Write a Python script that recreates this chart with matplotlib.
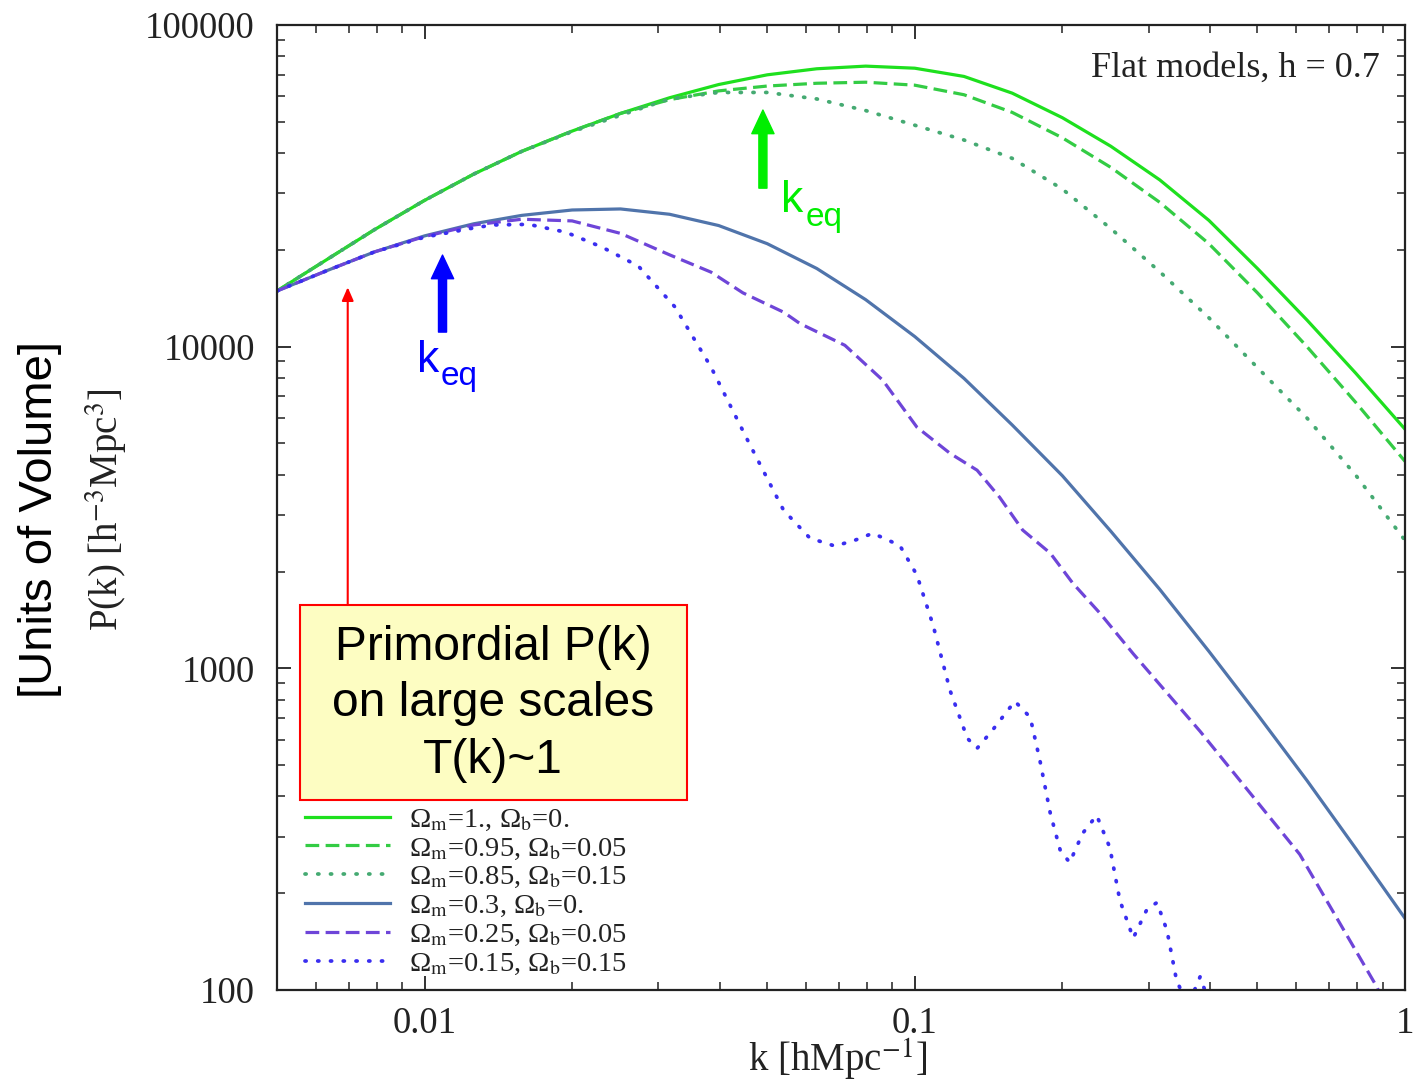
import numpy as np
import matplotlib.pyplot as plt
from matplotlib.patches import Rectangle
from matplotlib.ticker import FuncFormatter, LogLocator, NullFormatter

plt.rcParams['mathtext.fontset'] = 'stix'
SERIF = 'Liberation Serif'
SANS = 'Liberation Sans'

# shared k grid for the smooth curves [h/Mpc]
k_grid = [0.005, 0.0063, 0.0079, 0.01, 0.0126, 0.0158, 0.02, 0.0251, 0.0316, 0.0398,
          0.05, 0.0631, 0.0794, 0.1, 0.126, 0.158, 0.2, 0.251, 0.316, 0.398,
          0.5, 0.631, 0.794, 1.0]
p_om100 = [14900, 18600, 23100, 28500, 34400, 40500, 46800, 53100, 59400, 65300,
           70000, 73100, 74500, 73400, 69200, 61400, 51500, 42000, 33000, 24700,
           17500, 12100, 8260, 5540]
p_om095 = [14900, 18600, 23100, 28500, 34400, 40500, 46800, 53100, 58600, 62400,
           64600, 65900, 66400, 65000, 60700, 53500, 44600, 36100, 28100, 20900,
           14700, 10000, 6700, 4400]
p_om085 = [14900, 18600, 23100, 28500, 34400, 40500, 46600, 52400, 58900, 61700,
           61700, 58900, 54200, 48800, 43900, 38500, 30900, 23300, 17100, 12300,
           8610, 6000, 3980, 2500]
p_om030 = [14900, 17200, 19700, 22100, 24100, 25600, 26600, 26800, 25800, 23800,
           20900, 17500, 14000, 10750, 7970, 5710, 3970, 2670, 1760, 1130,
           719, 448, 275, 167]

k_om025 = [0.005, 0.0063, 0.0079, 0.01, 0.0126, 0.0158, 0.02, 0.0251, 0.0316, 0.0384,
           0.0446, 0.054, 0.0583, 0.072, 0.086, 0.101, 0.118, 0.134, 0.149, 0.166,
           0.189, 0.21, 0.239, 0.279, 0.382, 0.61, 0.877, 1.0]
p_om025 = [14900, 17200, 19700, 22000, 23900, 24900, 24600, 22500, 19300, 17050,
           14700, 12800, 11800, 10100, 7870, 5620, 4660, 4130, 3400, 2690,
           2280, 1840, 1480, 1110, 637, 264, 102, 62]

k_om015 = [0.005, 0.0063, 0.0079, 0.01, 0.0126, 0.0138, 0.0163, 0.0194, 0.023, 0.0273,
           0.0324, 0.0384, 0.0456, 0.054, 0.0611, 0.0687, 0.0754, 0.0821, 0.0932, 0.101,
           0.109, 0.118, 0.128, 0.134, 0.144, 0.16, 0.172, 0.18, 0.189, 0.198,
           0.207, 0.22, 0.235, 0.25, 0.262, 0.279, 0.298, 0.312, 0.327, 0.342,
           0.361, 0.382, 0.404, 0.439]
p_om015 = [14900, 17200, 19700, 21900, 23400, 23900, 24000, 22700, 20400, 17800,
           13300, 8640, 5120, 3100, 2540, 2400, 2500, 2630, 2410, 1950,
           1360, 854, 606, 564, 642, 790, 704, 517, 354, 272,
           249, 307, 349, 277, 190, 145, 179, 187, 153, 107,
           89.5, 110, 86, 56]

labels = [r'Ω$_\mathrm{m}$=1., Ω$_\mathrm{b}$=0.',
          r'Ω$_\mathrm{m}$=0.95, Ω$_\mathrm{b}$=0.05',
          r'Ω$_\mathrm{m}$=0.85, Ω$_\mathrm{b}$=0.15',
          r'Ω$_\mathrm{m}$=0.3, Ω$_\mathrm{b}$=0.',
          r'Ω$_\mathrm{m}$=0.25, Ω$_\mathrm{b}$=0.05',
          r'Ω$_\mathrm{m}$=0.15, Ω$_\mathrm{b}$=0.15']

dash = (0, (4.3, 2.0))
dot = (0, (0.3, 3.1))

fig = plt.figure(figsize=(14.14, 10.86), dpi=100)
ax = fig.add_axes([277 / 1414, 96 / 1086, 1128 / 1414, 965 / 1086])

lw = 2.3
ax.plot(k_grid, p_om100, color='#1ee01e', lw=lw, ls='-', label=labels[0])
ax.plot(k_grid, p_om095, color='#33cc44', lw=lw, ls=dash, label=labels[1])
ax.plot(k_grid, p_om085, color='#45aa72', lw=2.7, ls=dot, dash_capstyle='round',
        label=labels[2])
ax.plot(k_grid, p_om030, color='#5074ab', lw=lw, ls='-', label=labels[3])
ax.plot(k_om025, p_om025, color='#6e45d8', lw=lw, ls=dash, label=labels[4])
ax.plot(k_om015, p_om015, color='#3a2ef0', lw=2.7, ls=dot, dash_capstyle='round',
        label=labels[5])

ax.set_xscale('log')
ax.set_yscale('log')
ax.set_xlim(0.005, 1.0)
ax.set_ylim(100, 100000)

fmt = FuncFormatter(lambda v, _: '%g' % v)
ax.xaxis.set_major_formatter(fmt)
ax.yaxis.set_major_formatter(fmt)
ax.xaxis.set_minor_formatter(NullFormatter())
ax.yaxis.set_minor_formatter(NullFormatter())
ax.xaxis.set_minor_locator(LogLocator(base=10, subs=np.arange(2, 10)))
ax.yaxis.set_minor_locator(LogLocator(base=10, subs=np.arange(2, 10)))
ax.tick_params(which='both', direction='in', top=True, right=True, colors='#222222')
ax.tick_params(which='major', length=10, width=1.3)
ax.tick_params(which='minor', length=5.5, width=1.1)
ax.tick_params(axis='y', pad=16)
ax.tick_params(axis='x', pad=12)
for lab in ax.get_xticklabels() + ax.get_yticklabels():
    lab.set_fontfamily(SERIF)
    lab.set_fontsize(26.5)
    lab.set_color('#222222')
for sp in ax.spines.values():
    sp.set_linewidth(1.6)
    sp.set_color('#222222')

leg = ax.legend(loc='upper left', bbox_to_anchor=(0.0248, 0.19), frameon=False,
                prop={'family': SERIF, 'size': 20.5}, handlelength=3.0,
                handletextpad=0.65, labelspacing=0.1, borderpad=0, borderaxespad=0)
for t in leg.get_texts():
    t.set_color('#222222')

ax.text(0.9778, 0.9554, 'Flat models, h = 0.7', transform=ax.transAxes,
        ha='right', va='center', fontsize=26, family=SERIF, color='#222222')

# k_eq arrows
ax.annotate('', xy=(0.049, 54400), xytext=(0.049, 31100),
            arrowprops=dict(width=5.8, headwidth=16, headlength=17,
                            color='#00ee00', shrink=0))
ax.text(0.0533, 26200, 'k', fontsize=32, family=SANS, color='#00ee00',
        ha='left', va='baseline')
ax.text(0.0599, 23700, 'eq', fontsize=24, family=SANS, color='#00ee00',
        ha='left', va='baseline')

ax.annotate('', xy=(0.01088, 19260), xytext=(0.01088, 11100),
            arrowprops=dict(width=5.8, headwidth=16, headlength=17,
                            color='#0000ff', shrink=0))
ax.text(0.00963, 8330, 'k', fontsize=32, family=SANS, color='#0000ff',
        ha='left', va='baseline')
ax.text(0.01078, 7590, 'eq', fontsize=24, family=SANS, color='#0000ff',
        ha='left', va='baseline')

# primordial box and red arrow
ax.annotate('', xy=(0.00697, 15300), xytext=(0.00697, 1571),
            arrowprops=dict(arrowstyle='-|>,head_width=0.35,head_length=0.8',
                            color='#ff0000', lw=1.5, shrinkA=0, shrinkB=0))
ax.add_patch(Rectangle((0.0204, 0.1969), 0.3431, 0.2021, transform=ax.transAxes,
                       facecolor='#fdfdc2', edgecolor='#ff0000', lw=1.5, zorder=5))
ax.text(0.1915, 0.2964, 'Primordial P(k)\non large scales\nT(k)~1',
        transform=ax.transAxes, ha='center', va='center', fontsize=34.5,
        family=SANS, color='black', linespacing=1.32, zorder=6)

fig.text(838 / 1414, 1 - 1060 / 1086, r'k [hMpc$^{-1}$]', ha='center', va='center',
         fontsize=28, family=SERIF, color='#222222')
fig.text(106 / 1414, 1 - 510 / 1086, r'P(k) [h$^{-3}$Mpc$^{3}$]', ha='center',
         va='center', rotation=90, fontsize=28, family=SERIF, color='#222222')
fig.text(40 / 1414, 1 - 520 / 1086, '[Units of Volume]', ha='center', va='center',
         rotation=90, fontsize=34, family=SANS, color='black')

fig.savefig('out.png', dpi=100)
